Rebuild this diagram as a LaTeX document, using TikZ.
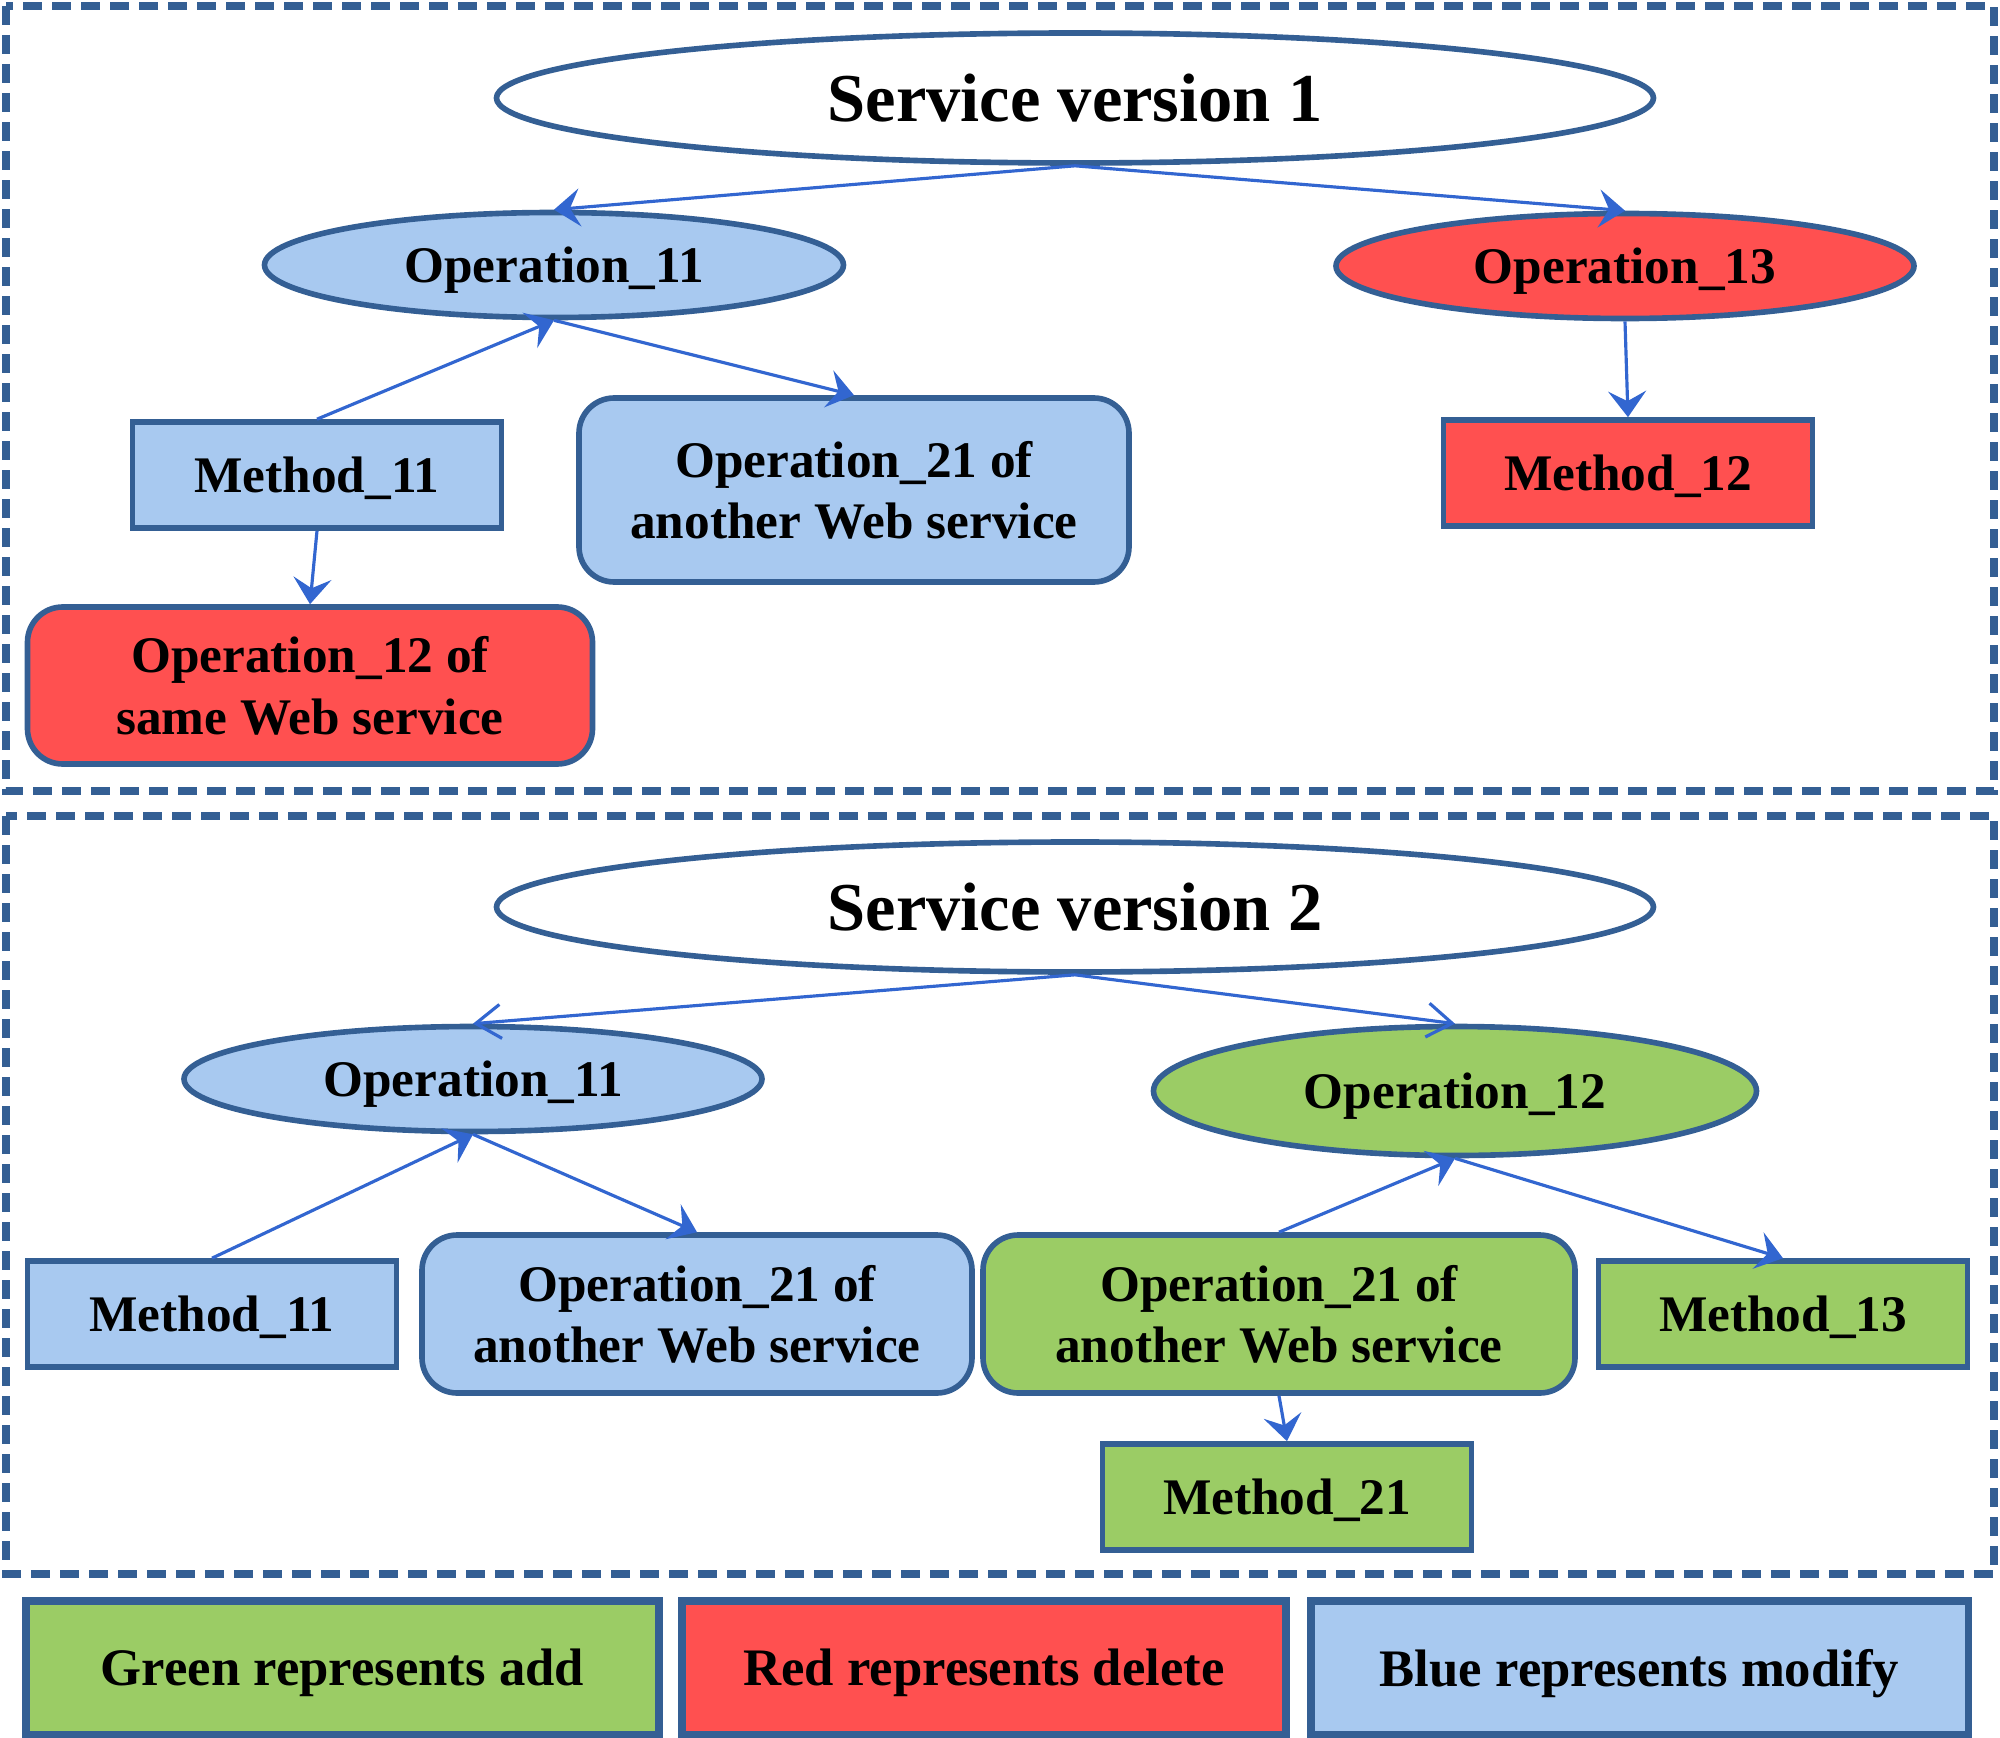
\documentclass[tikz,border=0pt]{standalone}
\usepackage{fontspec}
\setmainfont{Liberation Serif}
\usepackage{tikz}
\usetikzlibrary{shapes.geometric, arrows.meta, positioning, calc}
\definecolor{modifyblue}{RGB}{168,201,240}
\definecolor{deletered}{RGB}{255,80,80}
\definecolor{addgreen}{RGB}{155,204,101}
\definecolor{edgeblue}{RGB}{52,95,148}
\definecolor{linkblue}{RGB}{50,102,208}

\begin{document}
\begin{tikzpicture}[
    %% Styles  (sizes taken straight from the layout, text set in bold serif)
    oval/.style={
      ellipse, inner sep=0pt, text depth=0pt,
      text centered, align=center,
      font=\fontsize{14.6}{17.4}\selectfont\bfseries,
      draw=edgeblue, line width=1.6pt
    },
    titleOval/.style={
      oval, fill=white,
      minimum width=11.57cm, minimum height=1.3cm,
      font=\fontsize{19.5}{23}\selectfont\bfseries
    },
    box/.style={
      rectangle, inner sep=2pt, text depth=0pt,
      minimum width=3.69cm, minimum height=1.06cm,
      text centered, align=center,
      font=\fontsize{14.6}{17.4}\selectfont\bfseries,
      draw=edgeblue, line width=1.6pt
    },
    roundBox/.style={
      box, rounded corners=10pt
    },
    keyBox/.style={
      box, minimum height=1.33cm, line width=2pt,
      font=\fontsize{15}{18}\selectfont\bfseries
    },
    frame/.style={draw=edgeblue, line width=2.1pt, dash pattern=on 0.19cm off 0.1cm},
    arrow/.style={-{Stealth[length=0.26cm, width=0.38cm, inset=0.1cm]}, draw=linkblue, line width=0.9pt},
    openArrow/.style={-{Straight Barb[length=0.25cm, width=0.34cm]}, draw=linkblue, line width=0.9pt}
  ]

  \useasboundingbox (0,0) rectangle (20,-17.38);

  %% ── Frames ────────────────────────────────────────────────
  \draw[frame] (0.06,-0.06) rectangle (19.94,-7.91);
  \draw[frame] (0.06,-8.16) rectangle (19.94,-15.74);

  %% ── Version 1 ─────────────────────────────────────────────
  \node[titleOval] (sv1) at (10.75,-0.98) {Service version 1};

  \node[oval, fill=modifyblue, minimum width=5.79cm, minimum height=1.05cm] (op11a) at (5.54,-2.65)
    {Operation\_11};
  \node[oval, fill=deletered, minimum width=5.78cm, minimum height=1.05cm] (op13) at (16.25,-2.66)
    {Operation\_13};

  \node[box, fill=modifyblue] (m11a) at (3.17,-4.75) {Method\_11};
  \node[roundBox, fill=modifyblue, minimum width=5.5cm, minimum height=1.84cm] (op21a) at (8.54,-4.9)
    {Operation\_21 of\\another Web service};
  \node[box, fill=deletered] (m12) at (16.28,-4.73) {Method\_12};

  \node[roundBox, fill=deletered, minimum width=5.65cm, minimum height=1.57cm] (op12a) at (3.1,-6.855)
    {Operation\_12 of\\same Web service};

  %% ── Version 2 ─────────────────────────────────────────────
  \node[titleOval] (sv2) at (10.75,-9.07) {Service version 2};

  \node[oval, fill=modifyblue, minimum width=5.78cm, minimum height=1.05cm] (op11b) at (4.73,-10.79)
    {Operation\_11};
  \node[oval, fill=addgreen, minimum width=6.03cm, minimum height=1.29cm] (op12b) at (14.55,-10.91)
    {Operation\_12};

  \node[box, fill=modifyblue] (m11b) at (2.12,-13.14) {Method\_11};
  \node[roundBox, fill=modifyblue, minimum width=5.5cm, minimum height=1.58cm] (op21b) at (6.97,-13.14)
    {Operation\_21 of\\another Web service};
  \node[roundBox, fill=addgreen, minimum width=5.92cm, minimum height=1.58cm] (op21g) at (12.79,-13.14)
    {Operation\_21 of\\another Web service};
  \node[box, fill=addgreen] (m13) at (17.83,-13.14) {Method\_13};
  \node[box, fill=addgreen] (m21) at (12.87,-14.97) {Method\_21};

  %% ── Key ───────────────────────────────────────────────────
  \node[keyBox, fill=addgreen, minimum width=6.33cm] (keyAdd) at (3.425,-16.675)
    {Green represents add};
  \node[keyBox, fill=deletered, minimum width=6.04cm] (keyDel) at (9.84,-16.675)
    {Red represents delete};
  \node[keyBox, fill=modifyblue, minimum width=6.57cm] (keyMod) at (16.395,-16.675)
    {Blue represents modify};

  %% ── Arrows ────────────────────────────────────────────────
  % version 1
  \draw[arrow] (sv1.south) -- (op11a.north);
  \draw[arrow] (sv1.south) -- (op13.north);
  \draw[arrow] (m11a.north) -- (op11a.south);
  \draw[arrow] (op11a.south) -- (op21a.north);
  \draw[arrow] (m11a.south) -- (op12a.north);
  \draw[arrow] (op13.south) -- (m12.north);

  % version 2
  \draw[openArrow] (sv2.south) -- (op11b.north);
  \draw[openArrow] (sv2.south) -- (op12b.north);
  \draw[arrow] (m11b.north) -- (op11b.south);
  \draw[arrow] (op11b.south) -- (op21b.north);
  \draw[arrow] (op21g.north) -- (op12b.south);
  \draw[arrow] (op12b.south) -- (m13.north);
  \draw[arrow] (op21g.south) -- (m21.north);

\end{tikzpicture}
\end{document}
